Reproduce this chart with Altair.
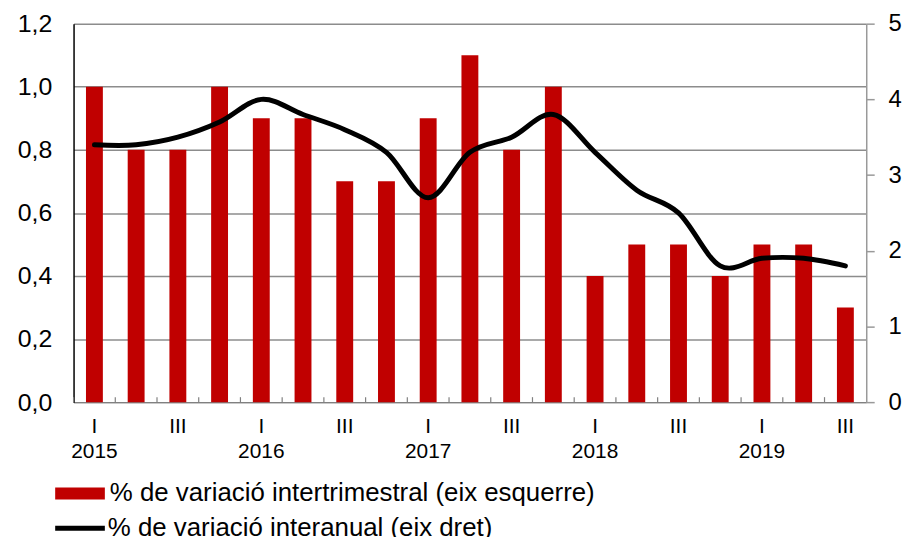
import altair as alt
import pandas as pd

years = ["2015"] * 4 + ["2016"] * 4 + ["2017"] * 4 + ["2018"] * 4 + ["2019"] * 3
quarters = ["I", "II", "III", "IV"] * 4 + ["I", "II", "III"]
intertrimestral = [1.0, 0.8, 0.8, 1.0, 0.9, 0.9, 0.7, 0.7, 0.9, 1.1, 0.8, 1.0,
                   0.4, 0.5, 0.5, 0.4, 0.5, 0.5, 0.3]
interanual = [3.4, 3.4, 3.5, 3.7, 4.0, 3.8, 3.6, 3.3, 2.7, 3.3, 3.5, 3.8,
              3.3, 2.8, 2.5, 1.8, 1.9, 1.9, 1.8]

L1 = "% de variació intertrimestral (eix esquerre)"
L2 = "% de variació interanual (eix dret)"

keys = [f"{y} {q}" for y, q in zip(years, quarters)]
df = pd.DataFrame({
    "key": keys,
    "bar": intertrimestral,
    "line": interanual,
    "s1": [L1] * len(keys),
    "s2": [L2] * len(keys),
})

FONT = "Liberation Sans"
W, H = 798, 381

xscale = alt.Scale(paddingInner=0, paddingOuter=0)
xaxis = alt.Axis(
    title=None,
    ticks=False,
    labelExpr="slice(datum.label, 5) == 'I' ? ['I', slice(datum.label, 0, 4)] : (slice(datum.label, 5) == 'III' ? 'III' : '')",
    labelAngle=0,
    labelFont=FONT,
    labelFontSize=21,
    labelColor="black",
    labelLineHeight=25,
    labelPadding=14,
    labelOverlap=False,
    domainColor="#808080",
    domainWidth=1.5,
    grid=False,
)

bars = alt.Chart(df).mark_bar(size=17).encode(
    x=alt.X("key:N", sort=keys, scale=xscale, axis=xaxis),
    y=alt.Y(
        "bar:Q",
        scale=alt.Scale(domain=[0, 1.2], nice=False, zero=True),
        axis=alt.Axis(
            title=None,
            values=[0, 0.2, 0.4, 0.6, 0.8, 1.0, 1.2],
            labelExpr="replace(format(datum.value, '.1f'), '.', ',')",
            labelFont=FONT,
            labelFontSize=25,
            labelColor="black",
            tickSize=0,
            labelPadding=22,
            domainColor="black",
            domainWidth=1.5,
            grid=True,
            gridColor="#8c8c8c",
            gridWidth=1.5,
        ),
    ),
    color=alt.Color(
        "s1:N",
        scale=alt.Scale(domain=[L1], range=["#C00000"]),
        legend=alt.Legend(
            title=None,
            orient="none",
            legendX=-6.5,
            legendY=460,
            symbolType="M-2,-0.48H2V0.48H-2Z",
            symbolSize=625,
            symbolStrokeWidth=0,
            labelFont=FONT,
            labelFontSize=26,
            labelColor="black",
            labelLimit=1000,
            labelOffset=17,
        ),
    ),
)

ticks = alt.Chart(df).mark_rule(color="#808080", strokeWidth=1.2).encode(
    x=alt.X("key:N", sort=keys, scale=xscale, bandPosition=0, axis=xaxis),
    y=alt.value(H - 5),
    y2=alt.value(H),
)

line = alt.Chart(df).mark_line(interpolate="cardinal", strokeWidth=5, strokeCap="round").encode(
    x=alt.X("key:N", sort=keys, scale=xscale, axis=xaxis),
    y=alt.Y(
        "line:Q",
        scale=alt.Scale(domain=[0, 5], nice=False, zero=True),
        axis=alt.Axis(
            title=None,
            orient="right",
            values=[0, 1, 2, 3, 4, 5],
            format="d",
            labelFont=FONT,
            labelFontSize=24,
            labelColor="black",
            tickSize=8,
            tickColor="#999999",
            tickWidth=1.5,
            labelPadding=14,
            domainColor="#999999",
            domainWidth=1.5,
            grid=False,
        ),
    ),
    stroke=alt.Stroke(
        "s2:N",
        scale=alt.Scale(domain=[L2], range=["black"]),
        legend=alt.Legend(
            title=None,
            orient="none",
            legendX=-8.5,
            legendY=493,
            symbolType="M-2,0H2",
            symbolSize=625,
            symbolStrokeWidth=5,
            labelFont=FONT,
            labelFontSize=26,
            labelColor="black",
            labelLimit=1000,
            labelOffset=13,
        ),
    ),
)

chart = (
    alt.layer(bars, ticks, line)
    .resolve_scale(y="independent")
    .properties(
        width=W,
        height=H,
        autosize=alt.AutoSizeParams(type="none"),
        padding={"left": 66, "top": 14, "right": 36, "bottom": 134},
        background="white",
    )
    .configure_view(stroke=None)
)

chart.save("out.html", embed_options={"renderer": "svg", "actions": False})
